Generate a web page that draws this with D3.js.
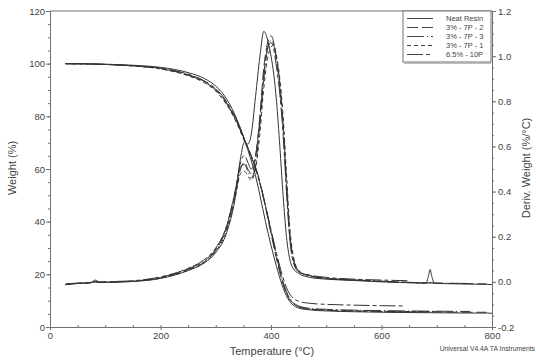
<!DOCTYPE html>
<html>
<head>
<meta charset="utf-8">
<script src="https://cdn.jsdelivr.net/npm/d3@7"></script>
<style>
  body { margin: 0; background: #fff; }
  text { font-family: 'Liberation Sans', Arial, sans-serif; fill: #444; }
  .axis path, .axis line { stroke: #707070; }
</style>
</head>
<body>
<div id="chart"></div>
<script>
var width = 536
var height = 360

// series names, legend order
var series = ['Neat Resin', '3% - 7P - 2', '3% - 7P - 3', '3% - 7P - 1', '6.5% - 10P']
var dashes = ['none', '11,4', '17,3,1,3', '4,3', '16,3,4,3']

// TGA : weight (%) vs temperature
var tgaTemp = [28, 60, 100, 150, 200, 250, 280, 300, 320, 340, 350, 360, 370, 380, 390, 400, 410, 420, 430, 440, 450, 470, 500, 550, 600, 640, 700, 760, 790, 800]
var tgaNeat = [100, 100, 99.8, 99.4, 98.6, 96.6, 94.3, 91.5, 86.5, 78, 72.5, 66, 59, 50, 40, 31, 23, 16, 11, 8.3, 7.2, 6.5, 6.1, 5.8, 5.6, 5.5, 5.4, 5.3, 5.3, 5.2]
var tga7P2 = [100, 99.9, 99.7, 99.2, 98.2, 95.8, 93.2, 90.2, 85, 77, 72, 67, 61.5, 54.5, 45.5, 35.5, 26, 17.5, 11.8, 9, 7.6, 6.8, 6.4, 6.1, 5.9, 5.8, 5.7, 5.6, 5.6, null]
var tga7P3 = [100, 99.9, 99.7, 99.2, 98.1, 95.6, 93, 90, 84.8, 77, 72, 67.2, 62, 55, 46, 36.5, 27, 18.5, 12.5, 9.4, 8, 7.1, 6.7, 6.4, 6.2, 6.1, 6.0, 5.9, null, null]
var tga7P1 = [100, 99.9, 99.7, 99.1, 98.0, 95.4, 92.7, 89.6, 84.3, 76.5, 71.5, 66.8, 61.5, 54.8, 46, 36, 26.5, 18, 12, 9, 7.7, 6.9, 6.5, 6.2, 6.0, 5.9, 5.8, null, null, null]
var tga10P = [100, 99.9, 99.7, 99.2, 98.3, 96, 93.4, 90.5, 85.5, 77.5, 72.3, 67, 61.5, 54.5, 46, 37, 28, 20, 14, 11, 9.8, 9, 8.6, 8.3, 8.1, 8.0, null, null, null, null]

// DTG : deriv. weight (%/°C) vs temperature
var dtgTemp = [28, 40, 60, 75, 82, 90, 120, 150, 200, 250, 280, 300, 320, 335, 345, 352, 358, 364, 372, 380, 387, 393, 400, 405, 410, 416, 422, 428, 434, 440, 450, 470, 500, 550, 600, 650, 680, 685, 688, 691, 696, 720, 760, 790, 800]
var dtgNeat = [-0.012, -0.008, -0.006, -0.002, 0.008, -0.002, 0.0, 0.002, 0.015, 0.05, 0.085, 0.13, 0.22, 0.37, 0.55, 0.62, 0.61, 0.65, 0.82, 1.0, 1.11, 1.08, 1.0, 0.92, 0.8, 0.6, 0.38, 0.2, 0.1, 0.06, 0.038, 0.02, 0.012, 0.006, 0.0, -0.004, -0.006, 0.025, 0.055, 0.025, -0.007, -0.008, -0.01, -0.011, -0.012]
var dtg7P2 = [-0.013, -0.009, -0.006, -0.004, 0.0, -0.003, -0.001, 0.002, 0.018, 0.055, 0.09, 0.14, 0.24, 0.38, 0.5, 0.53, 0.5, 0.48, 0.55, 0.74, 0.95, 1.05, 1.09, 1.06, 0.98, 0.86, 0.68, 0.42, 0.2, 0.1, 0.045, 0.026, 0.015, 0.008, 0.002, -0.003, -0.005, -0.005, -0.005, -0.005, -0.006, -0.007, -0.008, -0.009, null]
var dtg7P3 = [-0.011, -0.008, -0.005, -0.003, 0.001, -0.002, 0.0, 0.003, 0.02, 0.058, 0.095, 0.145, 0.25, 0.4, 0.51, 0.52, 0.49, 0.46, 0.52, 0.7, 0.9, 1.02, 1.07, 1.05, 0.99, 0.88, 0.7, 0.45, 0.22, 0.11, 0.05, 0.028, 0.016, 0.009, 0.003, -0.002, -0.004, -0.004, -0.004, -0.004, -0.005, -0.006, -0.007, null, null]
var dtg7P1 = [-0.012, -0.009, -0.006, -0.004, 0.0, -0.003, -0.001, 0.002, 0.017, 0.052, 0.088, 0.135, 0.23, 0.37, 0.48, 0.49, 0.47, 0.45, 0.5, 0.66, 0.86, 0.98, 1.04, 1.05, 1.0, 0.9, 0.73, 0.48, 0.24, 0.12, 0.05, 0.027, 0.015, 0.008, 0.002, -0.003, -0.005, -0.005, -0.005, -0.005, null, null, null, null, null]
var dtg10P = [-0.01, -0.007, -0.004, -0.002, 0.002, 0.0, 0.002, 0.005, 0.022, 0.06, 0.1, 0.15, 0.25, 0.4, 0.53, 0.56, 0.53, 0.5, 0.56, 0.72, 0.92, 1.03, 1.06, 1.03, 0.95, 0.83, 0.65, 0.4, 0.19, 0.09, 0.045, 0.03, 0.02, 0.012, 0.008, 0.005, null, null, null, null, null, null, null, null, null]

var tgaSets = [tgaNeat, tga7P2, tga7P3, tga7P1, tga10P]
var dtgSets = [dtgNeat, dtg7P2, dtg7P3, dtg7P1, dtg10P]

var weightTicks = [0, 20, 40, 60, 80, 100, 120]
var derivTicks = [-0.2, 0, 0.2, 0.4, 0.6, 0.8, 1.0, 1.2]
var tempTicks = [0, 200, 400, 600, 800]

// plot box (window.top is read-only, hence the names)
var pLeft = 50, pRight = 492, pTop = 11, pBottom = 327

var svg = d3.select('#chart').append('svg')
    .attr('width', width)
    .attr('height', height)

var x = d3.scaleLinear().domain([0, 800]).range([pLeft, pRight])
var yW = d3.scaleLinear().domain([0, 120]).range([pBottom, pTop])
var yD = d3.scaleLinear().domain([-0.2, 1.2]).range([pBottom, pTop])

// minor ticks first, then the major axes on top
svg.append('g').attr('class', 'axis').attr('transform', 'translate(' + pLeft + ',0)')
    .call(d3.axisLeft(yW).tickValues(d3.range(0, 121, 5)).tickSize(2).tickFormat(''))
svg.append('g').attr('class', 'axis').attr('transform', 'translate(' + pRight + ',0)')
    .call(d3.axisRight(yD).tickValues(d3.range(-4, 25).map(function (i) { return i * 0.05 })).tickSize(2).tickFormat(''))
svg.append('g').attr('class', 'axis').attr('transform', 'translate(0,' + pBottom + ')')
    .call(d3.axisTop(x).tickValues(d3.range(0, 801, 50)).tickSize(2).tickFormat(''))

svg.append('g').attr('class', 'axis').attr('transform', 'translate(' + pLeft + ',0)')
    .call(d3.axisLeft(yW).tickValues(weightTicks).tickSize(4).tickPadding(1).tickSizeOuter(0))
svg.append('g').attr('class', 'axis').attr('transform', 'translate(' + pRight + ',0)')
    .call(d3.axisRight(yD).tickValues(derivTicks).tickSize(4).tickPadding(2).tickSizeOuter(0)
        .tickFormat(function (d) { return d.toFixed(1) }))
svg.append('g').attr('class', 'axis').attr('transform', 'translate(0,' + pBottom + ')')
    .call(d3.axisBottom(x).tickValues(tempTicks).tickSize(3).tickPadding(2).tickSizeOuter(0))

svg.selectAll('.axis text').style('font-size', '9.5px').style('font-family', "'Liberation Sans', Arial, sans-serif").attr('fill', '#444')

// top border of the frame
svg.append('line')
    .attr('x1', pLeft).attr('x2', pRight).attr('y1', pTop).attr('y2', pTop)
    .attr('stroke', '#707070')

var lineW = d3.line()
    .defined(function (d) { return d[1] != null })
    .x(function (d) { return x(d[0]) })
    .y(function (d) { return yW(d[1]) })
    .curve(d3.curveMonotoneX)

var lineD = d3.line()
    .defined(function (d) { return d[1] != null })
    .x(function (d) { return x(d[0]) })
    .y(function (d) { return yD(d[1]) })
    .curve(d3.curveMonotoneX)

var plot = svg.append('g')

series.forEach(function (name, i) {
    var tga = tgaTemp.map(function (t, j) { return [t, tgaSets[i][j]] })
    var dtg = dtgTemp.map(function (t, j) { return [t, dtgSets[i][j]] })
    plot.append('path').datum(tga)
        .attr('d', lineW)
        .attr('fill', 'none')
        .attr('stroke', '#333')
        .attr('stroke-width', 1)
        .attr('stroke-dasharray', dashes[i])
    plot.append('path').datum(dtg)
        .attr('d', lineD)
        .attr('fill', 'none')
        .attr('stroke', '#333')
        .attr('stroke-width', 1)
        .attr('stroke-dasharray', dashes[i])
})

// legend
var legend = svg.append('g')
legend.append('rect')
    .attr('x', 403).attr('y', pTop).attr('width', 88).attr('height', 51)
    .attr('fill', '#fff').attr('stroke', '#707070')
legend.append('line')
    .attr('x1', 404).attr('x2', 491).attr('y1', pTop + 52).attr('y2', pTop + 52)
    .attr('stroke', '#aaa').attr('stroke-width', 1.5)

var rows = legend.selectAll('.row')
    .data(series)
    .enter().append('g')
    .attr('class', 'row')
    .attr('transform', function (d, i) { return 'translate(0,' + (18.5 + i * 9) + ')' })

rows.append('line')
    .attr('x1', 407).attr('x2', 433).attr('y1', 0).attr('y2', 0)
    .attr('stroke', '#444')
    .attr('stroke-dasharray', function (d, i) { return dashes[i] })
rows.append('text')
    .attr('x', 446).attr('dy', '0.35em')
    .style('font-size', '7.5px')
    .text(function (d) { return d })

// titles
svg.append('text')
    .attr('transform', 'translate(16,168) rotate(-90)')
    .attr('text-anchor', 'middle')
    .style('font-size', '11px')
    .text('Weight (%)')

svg.append('text')
    .attr('transform', 'translate(530,168) rotate(-90)')
    .attr('text-anchor', 'middle')
    .style('font-size', '11px')
    .text('Deriv. Weight (%/°C)')

svg.append('text')
    .attr('x', 272).attr('y', 355)
    .attr('text-anchor', 'middle')
    .style('font-size', '11px')
    .text('Temperature (°C)')

svg.append('text')
    .attr('x', 535).attr('y', 351)
    .attr('text-anchor', 'end')
    .style('font-size', '6.8px')
    .text('Universal V4.4A TA Instruments')
</script>
</body>
</html>
